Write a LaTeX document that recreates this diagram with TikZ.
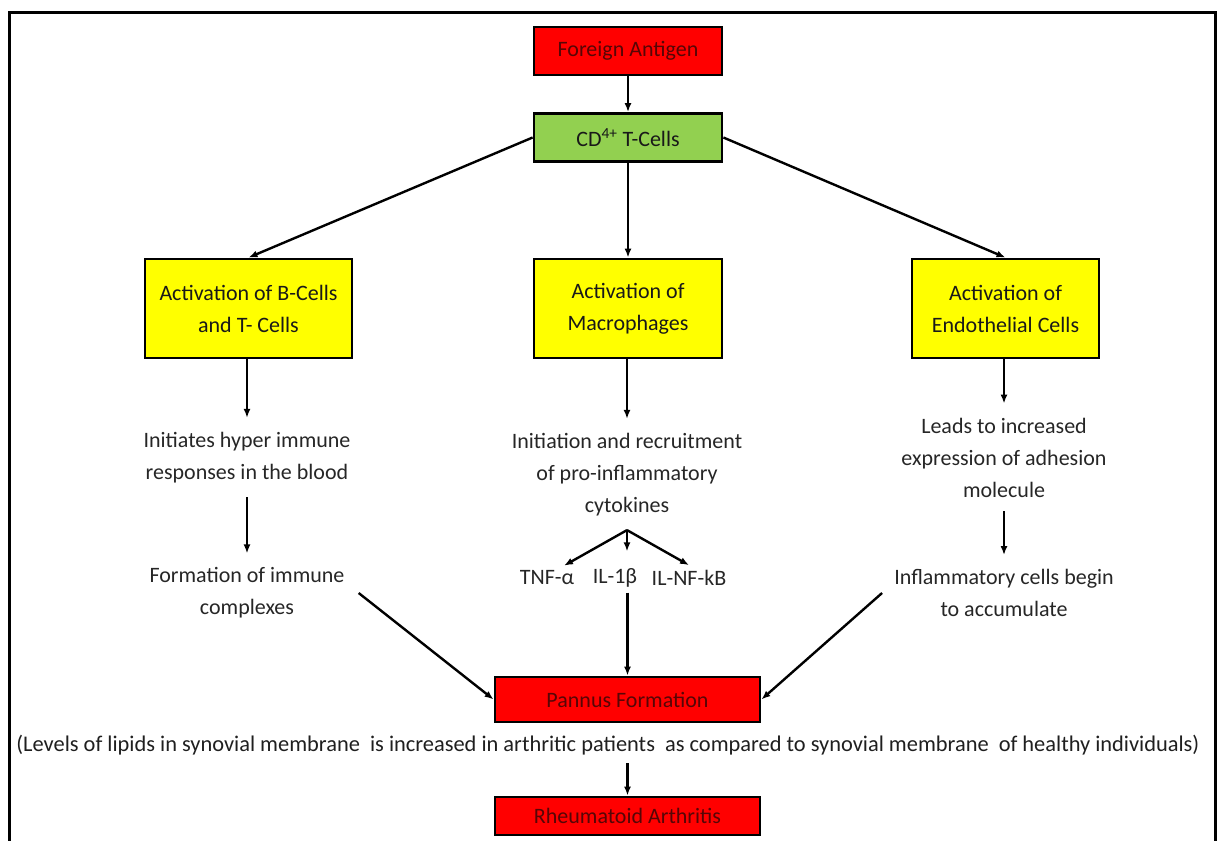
\documentclass[tikz,border=0pt]{standalone}
\usepackage{fontspec}
\setmainfont{Carlito}
\usetikzlibrary{arrows.meta,calc,positioning}
\definecolor{BoxRed}{HTML}{FF0000}
\definecolor{BoxGreen}{HTML}{92D050}
\definecolor{BoxYellow}{HTML}{FFFF00}
\definecolor{InkRed}{HTML}{560606}
\definecolor{InkGray}{HTML}{262626}
\tikzset{
  rabox/.style={draw=black, line width=2.8pt, align=center, inner sep=2pt, font=\fontsize{22}{32}\selectfont},
  rared/.style={rabox, fill=BoxRed, text=InkRed},
  ragreen/.style={rabox, fill=BoxGreen, text=black!90},
  rayellow/.style={rabox, fill=BoxYellow, text=black!90},
  ratext/.style={align=center, inner xsep=6pt, inner ysep=14pt, text=InkGray, font=\fontsize{22}{32}\selectfont},
  raarrow/.style={-{Latex[length=9pt,width=7pt]}, line width=2.4pt, draw=black}
}

\begin{document}
\begin{tikzpicture}[x=1pt, y=-1pt]
  \useasboundingbox (0,0) rectangle (1217,840);
  \draw[line width=3pt] (9.5,841) -- (9.5,13) -- (1215,13) -- (1215,841);
  % top of the chain
  \node[rared, minimum width=188pt, minimum height=48pt] (antigen) at (628,51) {Foreign Antigen};
  \node[ragreen, minimum width=188pt, minimum height=48pt] (tcell) at (628,137.5) {CD\textsuperscript{4+} T-Cells};
  % three branches
  \node[rayellow, minimum width=207pt, minimum height=99pt] (bcells) at (248.5,308.5) {Activation of B-Cells\\and T- Cells};
  \node[rayellow, minimum width=188pt, minimum height=99pt] (macro) at (628,308.5) {Activation of\\Macrophages};
  \node[rayellow, minimum width=187pt, minimum height=99pt] (endo) at (1005.5,308.5) {Activation of\\Endothelial Cells};
  \node[ratext] (hyper) at (247,457.5) {Initiates hyper immune\\responses in the blood};
  \node[ratext, inner xsep=14pt] (complex) at (247,593) {Formation of immune\\complexes};
  \node[ratext] (cyto) at (627,474.5) {Initiation and recruitment\\of pro-inflammatory\\cytokines};
  \node[ratext, inner ysep=5pt] (tnf) at (547,578) {TNF-α};
  \node[ratext, inner ysep=5pt] (il1b) at (615,578) {IL-1β};
  \node[ratext, inner ysep=5pt] (ilnf) at (689,578) {IL-NF-kB};
  \node[ratext] (adhesion) at (1004,457.5) {Leads to increased\\expression of adhesion\\molecule};
  \node[ratext, inner xsep=12pt] (accum) at (1004,593) {Inflammatory cells begin\\to accumulate};
  % bottom
  \node[rared, minimum width=265pt, minimum height=45pt] (pannus) at (627.5,699.5) {Pannus Formation};
  \node[ratext, inner ysep=8pt, text=black!88, font=\fontsize{22.4}{32}\selectfont] (lipids) at (608,745) {(Levels of lipids in synovial membrane~ is increased in arthritic patients~ as compared to synovial membrane~ of healthy individuals)};
  \node[rared, minimum width=265pt, minimum height=38pt] (ra) at (627.5,816) {Rheumatoid Arthritis};

  \draw[raarrow] (antigen) -- (tcell);
  \draw[raarrow] (tcell.west) -- (bcells.north);
  \draw[raarrow] (tcell) -- (macro);
  \draw[raarrow] (tcell.east) -- (endo.north);
  \draw[raarrow] (bcells.south -| hyper) -- (hyper.north);
  \draw[raarrow] (hyper) -- (complex);
  \draw[raarrow] (macro.south -| cyto) -- (cyto.north);
  \draw[raarrow] (cyto.south) -- ($(tnf.north)+(17,0)$);
  \draw[raarrow, shorten >=12pt] (cyto.south) -- (cyto.south |- il1b.north);
  \draw[raarrow] (cyto.south) -- (ilnf.north);
  \draw[raarrow] (endo.south -| adhesion) -- (adhesion.north);
  \draw[raarrow] (adhesion) -- (accum);
  \draw[raarrow] (complex.east) -- (pannus.west);
  \draw[raarrow] (il1b.south -| pannus.north) -- (pannus.north);
  \draw[raarrow] (accum.west) -- (pannus.east);
  \draw[raarrow] (lipids.south -| ra.north) -- (ra.north);
\end{tikzpicture}
\end{document}
